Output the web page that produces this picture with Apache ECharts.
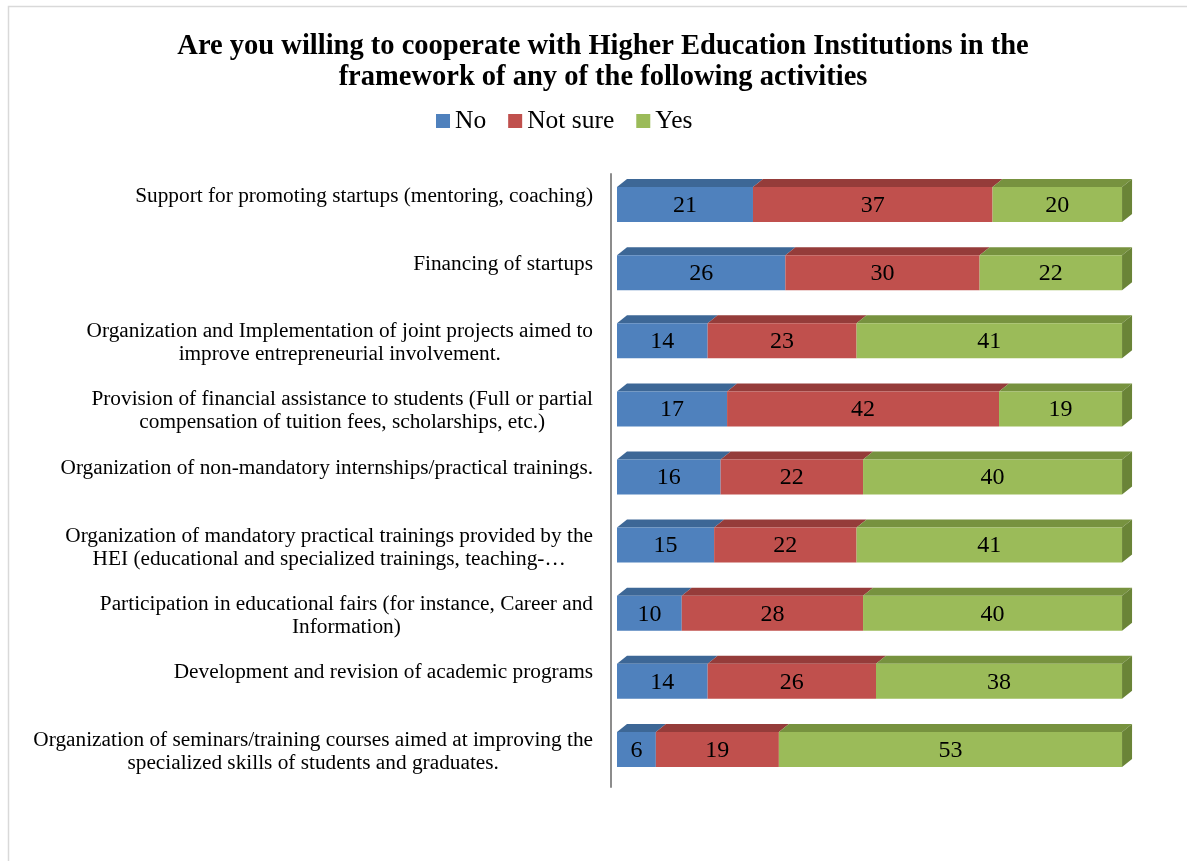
<!DOCTYPE html>
<html>
<head>
<meta charset="utf-8">
<script src="https://cdn.jsdelivr.net/npm/echarts@6/dist/echarts.min.js"></script>
<style>
  html, body { margin: 0; padding: 0; background: #fff; }
  #chart { width: 1187px; height: 861px; }
</style>
</head>
<body>
<div id="chart"></div>
<script>
var categories = [
  'Support for promoting startups (mentoring, coaching)',
  'Financing of startups',
  'Organization and Implementation of joint projects aimed to\nimprove entrepreneurial involvement.',
  'Provision of financial assistance to students (Full or partial\ncompensation of tuition fees, scholarships, etc.)',
  'Organization of non-mandatory internships/practical trainings.',
  'Organization of mandatory practical trainings provided by the\nHEI (educational and specialized trainings, teaching-…',
  'Participation in educational fairs (for instance, Career and\nInformation)',
  'Development and revision of academic programs',
  'Organization of seminars/training courses aimed at improving the\nspecialized skills of students and graduates.'
];
var noValues = [21, 26, 14, 17, 16, 15, 10, 14, 6];
var notSureValues = [37, 30, 23, 42, 22, 22, 28, 26, 19];
var yesValues = [20, 22, 41, 19, 40, 41, 40, 38, 53];
var seriesNames = ['No', 'Not sure', 'Yes'];

// front / top / side colours for the 3d look
var palette = [
  { front: '#4f81bd', top: '#3d6796', side: '#345a85' },
  { front: '#c0504d', top: '#953c3a', side: '#833331' },
  { front: '#9bbb59', top: '#77923f', side: '#6a8437' }
];

var serif = '"Liberation Serif", "Times New Roman", serif';
var DX = 10, DY = -8, BAR_H = 35;
var GAP_X = 6; // bars start a little right of the axis line

function buildData(values, offsets) {
  return values.map(function (v, i) {
    var start = offsets ? offsets[i] : 0;
    return [start, start + v, i, v];
  });
}

var sumNoNot = noValues.map(function (v, i) { return v + notSureValues[i]; });

function make3dRender(col, withSide) {
  return function (params, api) {
    var s = api.value(0), e = api.value(1), ci = api.value(2), val = api.value(3);
    var p0 = api.coord([s, ci]);
    var p1 = api.coord([e, ci]);
    var cy = p0[1] - 3.5;
    var top = cy - BAR_H / 2;
    var x0 = p0[0] + GAP_X, x1 = p1[0] + GAP_X;
    var children = [
      {
        type: 'polygon',
        shape: { points: [[x0, top], [x0 + DX, top + DY], [x1 + DX, top + DY], [x1, top]] },
        style: { fill: col.top }
      },
      {
        type: 'rect',
        shape: { x: x0, y: top, width: x1 - x0, height: BAR_H },
        style: { fill: col.front }
      }
    ];
    if (withSide) {
      children.push({
        type: 'polygon',
        shape: { points: [[x1, top], [x1 + DX, top + DY], [x1 + DX, top + DY + BAR_H], [x1, top + BAR_H]] },
        style: { fill: col.side }
      });
    }
    children.push({
      type: 'text',
      style: {
        x: (x0 + x1) / 2, y: cy + 1,
        text: String(val),
        align: 'center', verticalAlign: 'middle',
        fill: '#000', fontSize: 24, fontFamily: serif
      }
    });
    return { type: 'group', children: children };
  };
}

var chart = echarts.init(document.getElementById('chart'));

var option = {
  backgroundColor: '#fff',
  animation: false,
  graphic: [{
    type: 'rect',
    left: 6, top: 4,
    shape: { width: 1300, height: 1000 },
    style: { fill: 'none', stroke: '#d9d9d9', lineWidth: 1.5 },
    silent: true
  }],
  title: {
    text: 'Are you willing to cooperate with Higher Education Institutions in the\nframework of any of the following activities',
    left: 598, top: 26, textAlign: 'center',
    textStyle: { fontFamily: serif, fontWeight: 'bold', fontSize: 28.5, lineHeight: 31, color: '#000' }
  },
  legend: {
    data: seriesNames,
    top: 103, left: 431,
    icon: 'rect', itemWidth: 14, itemHeight: 14, itemGap: 22,
    textStyle: { fontFamily: serif, fontSize: 25.5, color: '#000' }
  },
  grid: { left: 611, right: 58, top: 174, height: 613 },
  xAxis: { type: 'value', min: 0, max: 80, show: false },
  yAxis: {
    type: 'category',
    data: categories,
    inverse: true,
    axisLine: { show: true, lineStyle: { color: '#8c8c8c', width: 2 } },
    axisTick: { show: false },
    axisLabel: {
      margin: 18,
      align: 'right',
      formatter: function (v) {
        var lines = v.split('\n');
        var key = lines.length > 1 ? 'c' : 's';
        return lines.map(function (l) { return '{' + key + '|' + l + '}'; }).join('\n');
      },
      rich: {
        c: { align: 'center', fontFamily: serif, fontSize: 21.3, lineHeight: 23, color: '#000', padding: [0, 0, 2, 0] },
        s: { align: 'center', fontFamily: serif, fontSize: 21.3, lineHeight: 23, color: '#000', padding: [0, 0, 24, 0] }
      }
    }
  },
  series: [
    {
      name: seriesNames[0], type: 'custom',
      itemStyle: { color: palette[0].front },
      encode: { x: [0, 1], y: 2 },
      renderItem: make3dRender(palette[0], false),
      data: buildData(noValues)
    },
    {
      name: seriesNames[1], type: 'custom',
      itemStyle: { color: palette[1].front },
      encode: { x: [0, 1], y: 2 },
      renderItem: make3dRender(palette[1], false),
      data: buildData(notSureValues, noValues)
    },
    {
      name: seriesNames[2], type: 'custom',
      itemStyle: { color: palette[2].front },
      encode: { x: [0, 1], y: 2 },
      renderItem: make3dRender(palette[2], true),
      data: buildData(yesValues, sumNoNot)
    }
  ]
};

chart.setOption(option);
</script>
</body>
</html>
